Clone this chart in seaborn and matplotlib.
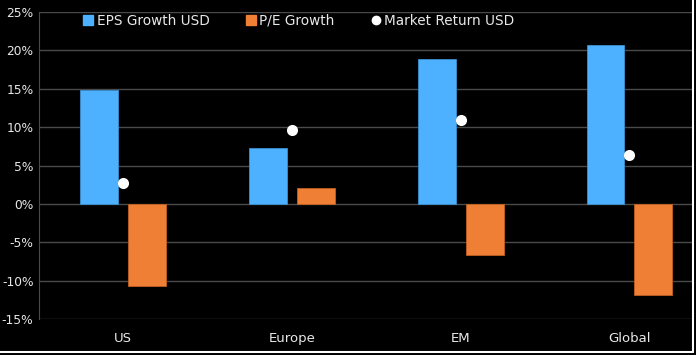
import numpy as np
import pandas as pd
import seaborn as sns
import matplotlib.pyplot as plt
from matplotlib.lines import Line2D

# values (percent)
regions = ["US", "Europe", "EM", "Global"]
eps_growth = [14.9, 7.3, 18.9, 20.7]
pe_growth = [-10.7, 2.1, -6.7, -11.8]
market_return = [2.7, 9.6, 11.0, 6.4]
series_names = ["EPS Growth USD", "P/E Growth"]
ytick_vals = [-15, -10, -5, 0, 5, 10, 15, 20, 25]

blue = "#4db1ff"
orange = "#ee7f35"
txt = "#e8e8e8"

bars = pd.DataFrame({
    "region": regions * 2,
    "series": [series_names[0]] * 4 + [series_names[1]] * 4,
    "value": eps_growth + pe_growth,
})
dots = pd.DataFrame({"region": regions, "value": market_return})

sns.set_style("dark")
plt.rcParams["font.family"] = ["DejaVu Sans"]

fig = plt.figure(figsize=(6.96, 3.55), dpi=100, facecolor="black")
ax = fig.add_axes([0.056, 0.101, 0.938, 0.865])
ax.set_facecolor("black")

sns.barplot(data=bars, x="region", y="value", hue="series", order=regions,
            hue_order=series_names, palette=[blue, orange], width=0.568,
            gap=0.21, saturation=1, legend=False, ax=ax, zorder=3)
for p in ax.patches:
    p.set_edgecolor("#c0601f" if p.get_facecolor()[0] > 0.8 else "#3a8fd0")
    p.set_linewidth(0.6)

sns.stripplot(data=dots, x="region", y="value", order=regions, jitter=False,
              color="white", size=8, linewidth=0, ax=ax, zorder=4)

ax.set_ylim(-15, 25)
ax.set_xlim(-0.5, 3.37)
ax.set_yticks(ytick_vals)
ax.set_yticklabels([f"{v}%" for v in ytick_vals])
ax.grid(axis="y", color="#4a4a4a", linewidth=1)
ax.grid(axis="x", visible=False)
ax.set_axisbelow(True)
ax.set_xlabel("")
ax.set_ylabel("")
for s in ["top", "right", "bottom"]:
    ax.spines[s].set_visible(False)
ax.spines["left"].set_visible(True)
ax.spines["left"].set_color("#4a4a4a")
ax.tick_params(axis="y", colors=txt, labelsize=8.8, length=2, color="#4a4a4a", pad=2)
ax.tick_params(axis="x", colors=txt, labelsize=9.5, length=0, pad=9)

handles = [
    Line2D([], [], marker="s", linestyle="", markersize=7, color=blue),
    Line2D([], [], marker="s", linestyle="", markersize=7, color=orange),
    Line2D([], [], marker="o", linestyle="", markersize=6, color="white"),
]
leg = ax.legend(handles, series_names + ["Market Return USD"], ncol=3,
                loc="upper left", bbox_to_anchor=(0.055, 1.025), frameon=False,
                fontsize=9.8, handlelength=0.6, handletextpad=0.3,
                columnspacing=2.75, borderaxespad=0.3)
for t in leg.get_texts():
    t.set_color(txt)

# white frame on the bottom and right edges
fig.add_artist(Line2D([0, 0.996], [0.008, 0.008], color="white", lw=1.5,
                      transform=fig.transFigure))
fig.add_artist(Line2D([0.996, 0.996], [0.008, 1], color="white", lw=1.5,
                      transform=fig.transFigure))

fig.savefig("out.png", dpi=100, facecolor="black")
